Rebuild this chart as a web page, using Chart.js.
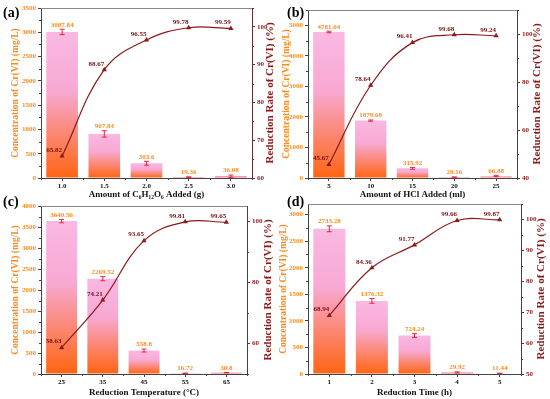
<!DOCTYPE html>
<html>
<head>
<meta charset="utf-8">
<script src="https://cdn.jsdelivr.net/npm/chart.js@4.4.1/dist/chart.umd.min.js"></script>
<style>
    html, body { margin: 0; padding: 0; background: #fff; }
    #wrap { position: relative; width: 550px; height: 399px; overflow: hidden; }
    #wrap canvas { position: absolute; }
</style>
</head>
<body>
<div id="wrap">
    <canvas id="chart-a" width="275" height="200" style="left:0;top:0"></canvas>
    <canvas id="chart-b" width="275" height="200" style="left:275px;top:0"></canvas>
    <canvas id="chart-c" width="275" height="209" style="left:0;top:190px"></canvas>
    <canvas id="chart-d" width="275" height="209" style="left:275px;top:190px"></canvas>
</div>
<script>
// (a) 葡萄糖 투입량
const labelsA = ['1.0', '1.5', '2.0', '2.5', '3.0'];
const concA = [3007.84, 907.84, 303.6, 19.36, 36.08];
const errA = [55, 65, 40, 5, 25];
const rateA = [65.82, 88.67, 96.55, 99.78, 99.59];
const concTicksA = [0, 500, 1000, 1500, 2000, 2500, 3000, 3500];
const rateTicksA = [60, 70, 80, 90, 100];

// (b) HCl 투입량
const labelsB = ['5', '10', '15', '20', '25'];
const concB = [4781.04, 1879.68, 315.92, 28.16, 66.88];
const errB = [25, 20, 30, 5, 20];
const rateB = [45.67, 78.64, 96.41, 99.68, 99.24];
const concTicksB = [0, 1000, 2000, 3000, 4000, 5000];
const rateTicksB = [40, 60, 80, 100];

// (c) 온도
const labelsC = ['25', '35', '45', '55', '65'];
const concC = [3640.56, 2269.52, 558.8, 16.72, 30.8];
const errC = [40, 50, 35, 5, 5];
const rateC = [58.63, 74.21, 93.65, 99.81, 99.65];
const concTicksC = [0, 500, 1000, 1500, 2000, 2500, 3000, 3500, 4000];
const rateTicksC = [60, 80, 100];

// (d) 시간
const labelsD = ['1', '2', '3', '4', '5'];
const concD = [2733.28, 1376.32, 724.24, 29.92, 11.44];
const errD = [55, 45, 35, 10, 5];
const rateD = [68.94, 84.36, 91.77, 99.66, 99.87];
const concTicksD = [0, 500, 1000, 1500, 2000, 2500, 3000];
const rateTicksD = [50, 60, 70, 80, 90, 100];

const FONT = "'Liberation Serif', 'Times New Roman', serif";
const ORANGE = '#ff8a1c';
const MAROON = '#8b1a1a';
const AXIS = '#444';

Chart.defaults.font.family = FONT;
Chart.defaults.animation = false;

const panels = [
    {
        id: 'chart-a', tag: '(a)', labels: labelsA, conc: concA, err: errA, rate: rateA,
        concTicks: concTicksA, rateTicks: rateTicksA, concMax: 3500, rateMin: 60, rateMax: 105,
        xTitle: 'Amount of C\u2086H\u2081\u2082O\u2086 Added (g)',
        box: { left: 41, right: 252, top: 8, bottom: 178 }, tagX: 3, tagY: 13,
        leftTitlePad: 10, rightTitleX: 270, xTitlePad: 0
    },
    {
        id: 'chart-b', tag: '(b)', labels: labelsB, conc: concB, err: errB, rate: rateB,
        concTicks: concTicksB, rateTicks: rateTicksB, concMax: 5500, rateMin: 40, rateMax: 110,
        xTitle: 'Amount of HCl Added (ml)',
        box: { left: 33, right: 242, top: 10, bottom: 178 }, tagX: 12, tagY: 13,
        leftTitlePad: 6, rightTitleX: 262, xTitlePad: 0
    },
    {
        id: 'chart-c', tag: '(c)', labels: labelsC, conc: concC, err: errC, rate: rateC,
        concTicks: concTicksC, rateTicks: rateTicksC, concMax: 4000, rateMin: 50, rateMax: 105,
        xTitle: 'Reduction Temperature (\u00B0C)',
        box: { left: 41, right: 247, top: 16, bottom: 184 }, tagX: 3, tagY: 12,
        leftTitlePad: 10, rightTitleX: 268, xTitlePad: 1
    },
    {
        id: 'chart-d', tag: '(d)', labels: labelsD, conc: concD, err: errD, rate: rateD,
        concTicks: concTicksD, rateTicks: rateTicksD, concMax: 3200, rateMin: 50, rateMax: 105,
        xTitle: 'Reduction Time (h)',
        box: { left: 33, right: 246, top: 14, bottom: 184 }, tagX: 12, tagY: 12,
        leftTitlePad: 3, rightTitleX: 266, xTitlePad: 1
    }
];

/**
 * 막대 그라데이션 (위 분홍 -> 아래 주황)
 */
const barFill = (ctx) => {
    const chart = ctx.chart;
    if (ctx.type !== 'data' || !chart.chartArea) return '#f7b0dc';
    const y = chart.scales.y;
    const top = y.getPixelForValue(ctx.raw);
    const bottom = y.getPixelForValue(0);
    if (bottom - top < 2) return '#f2708e';
    const g = chart.ctx.createLinearGradient(0, top, 0, bottom);
    g.addColorStop(0, '#f9b8e2');
    g.addColorStop(0.4, '#f8a9d3');
    g.addColorStop(1, '#ff6512');
    return g;
};

/**
 * 오차막대, 값 라벨, 보조눈금, 패널 태그
 */
const decorPlugin = {
    id: 'decor',
    afterDatasetsDraw(chart, args, opts) {
        const p = opts.panel;
        const ctx = chart.ctx;
        const y = chart.scales.y;
        ctx.save();

        // 오차막대 + 막대 값
        chart.getDatasetMeta(1).data.forEach((bar, i) => {
            const v = p.conc[i], e = p.err[i];
            const yTop = y.getPixelForValue(v + e);
            const yBot = y.getPixelForValue(Math.max(0, v - e));
            ctx.strokeStyle = '#e8283c';
            ctx.lineWidth = 1;
            ctx.beginPath();
            ctx.moveTo(bar.x, yTop); ctx.lineTo(bar.x, yBot);
            ctx.moveTo(bar.x - 2.5, yTop); ctx.lineTo(bar.x + 2.5, yTop);
            ctx.moveTo(bar.x - 2.5, yBot); ctx.lineTo(bar.x + 2.5, yBot);
            ctx.stroke();

            ctx.fillStyle = ORANGE;
            ctx.font = `bold 7px ${FONT}`;
            ctx.textAlign = 'center';
            ctx.textBaseline = 'bottom';
            ctx.fillText(String(v), bar.x, yTop - 1);
        });

        // 환원율 값
        chart.getDatasetMeta(0).data.forEach((pt, i) => {
            ctx.fillStyle = '#7a1010';
            ctx.font = `bold 7px ${FONT}`;
            ctx.textAlign = 'center';
            ctx.textBaseline = 'middle';
            ctx.fillText(p.rate[i].toFixed(2), pt.x - 8, pt.y - 6);
        });
        ctx.restore();
    },
    afterDraw(chart, args, opts) {
        const p = opts.panel;
        const ctx = chart.ctx;
        const area = chart.chartArea;
        ctx.save();

        // 위 테두리
        ctx.strokeStyle = '#888';
        ctx.lineWidth = 1;
        ctx.beginPath();
        ctx.moveTo(area.left, area.top + 0.5);
        ctx.lineTo(area.right, area.top + 0.5);
        ctx.stroke();

        // 보조눈금
        ['y', 'y1'].forEach(id => {
            const s = chart.scales[id];
            const vals = s.ticks.map(t => t.value);
            const step = vals[1] - vals[0];
            const x0 = id === 'y' ? area.left : area.right;
            const dir = id === 'y' ? -1 : 1;
            ctx.strokeStyle = id === 'y' ? AXIS : MAROON;
            ctx.beginPath();
            for (let v = vals[0] - step / 2; v <= s.max; v += step) {
                if (v < s.min) continue;
                const py = Math.round(s.getPixelForValue(v)) + 0.5;
                ctx.moveTo(x0, py);
                ctx.lineTo(x0 + dir * 2, py);
            }
            ctx.stroke();
        });
        const xs = chart.scales.x;
        const half = (xs.getPixelForTick(1) - xs.getPixelForTick(0)) / 2;
        ctx.strokeStyle = AXIS;
        ctx.beginPath();
        for (let i = 0; i <= p.labels.length; i++) {
            const px = Math.round(xs.getPixelForTick(0) - half + i * 2 * half) + 0.5;
            ctx.moveTo(px, area.bottom);
            ctx.lineTo(px, area.bottom + 2);
        }
        ctx.stroke();

        // 오른쪽 축 제목 (아래에서 위로)
        ctx.translate(p.rightTitleX, (area.top + area.bottom) / 2);
        ctx.rotate(-Math.PI / 2);
        ctx.fillStyle = MAROON;
        ctx.font = `bold 11px ${FONT}`;
        ctx.textAlign = 'center';
        ctx.textBaseline = 'middle';
        ctx.fillText('Reduction Rate of Cr(VI) (%)', 0, 0);
        ctx.restore();

        // 패널 태그
        ctx.save();
        ctx.fillStyle = '#000';
        ctx.font = `bold 14px ${FONT}`;
        ctx.textAlign = 'left';
        ctx.textBaseline = 'middle';
        ctx.fillText(p.tag, p.tagX, p.tagY);
        ctx.restore();
    }
};

const fixedTicks = (list) => (s) => { s.ticks = list.map(v => ({ value: v })); };
const plainLabel = (v) => String(v);

const buildChart = (p) => {
    const canvas = document.getElementById(p.id);
    const W = canvas.width, H = canvas.height;
    const tickFont = { size: 7, weight: 'bold' };

    return new Chart(canvas, {
        type: 'bar',
        data: {
            labels: p.labels,
            datasets: [
                {
                    type: 'line',
                    data: p.rate,
                    yAxisID: 'y1',
                    borderColor: MAROON,
                    borderWidth: 1.2,
                    tension: 0.4,
                    pointStyle: 'triangle',
                    pointRadius: 3,
                    pointBackgroundColor: MAROON,
                    pointBorderColor: MAROON,
                    pointBorderWidth: 0
                },
                {
                    type: 'bar',
                    data: p.conc,
                    yAxisID: 'y',
                    backgroundColor: barFill,
                    categoryPercentage: 1,
                    barPercentage: 0.75
                }
            ]
        },
        options: {
            responsive: false,
            animation: false,
            layout: { padding: { top: p.box.top, left: 0, right: 0, bottom: 0 }, autoPadding: false },
            plugins: {
                legend: { display: false },
                tooltip: { enabled: false },
                decor: { panel: p }
            },
            scales: {
                x: {
                    type: 'category',
                    offset: true,
                    grid: { display: true, drawOnChartArea: false, offset: false, tickLength: 3, color: AXIS },
                    border: { display: true, color: AXIS },
                    ticks: { color: '#111', font: tickFont, padding: 1, maxRotation: 0 },
                    title: {
                        display: true, text: p.xTitle, color: '#111',
                        font: { size: 9, weight: 'bold' }, padding: { top: 0, bottom: p.xTitlePad }
                    },
                    afterFit: (s) => { s.height = H - p.box.bottom; }
                },
                y: {
                    position: 'left',
                    min: 0,
                    max: p.concMax,
                    afterBuildTicks: fixedTicks(p.concTicks),
                    grid: { display: true, drawOnChartArea: false, tickLength: 3, color: AXIS },
                    border: { display: true, color: AXIS },
                    ticks: { color: ORANGE, font: tickFont, padding: 2, callback: plainLabel },
                    title: {
                        display: true, text: 'Concentration of Cr(VI) (mg/L)', color: ORANGE,
                        font: { size: 9.5, weight: 'bold' }, padding: { top: p.leftTitlePad, bottom: 0 }
                    },
                    afterFit: (s) => { s.width = p.box.left; }
                },
                y1: {
                    position: 'right',
                    min: p.rateMin,
                    max: p.rateMax,
                    afterBuildTicks: fixedTicks(p.rateTicks),
                    grid: { display: true, drawOnChartArea: false, tickLength: 3, color: MAROON },
                    border: { display: true, color: '#6a3030' },
                    ticks: { color: MAROON, font: tickFont, padding: 2, callback: plainLabel },
                    afterFit: (s) => { s.width = W - p.box.right; }
                }
            }
        },
        plugins: [decorPlugin]
    });
};

panels.forEach(buildChart);
</script>
</body>
</html>
